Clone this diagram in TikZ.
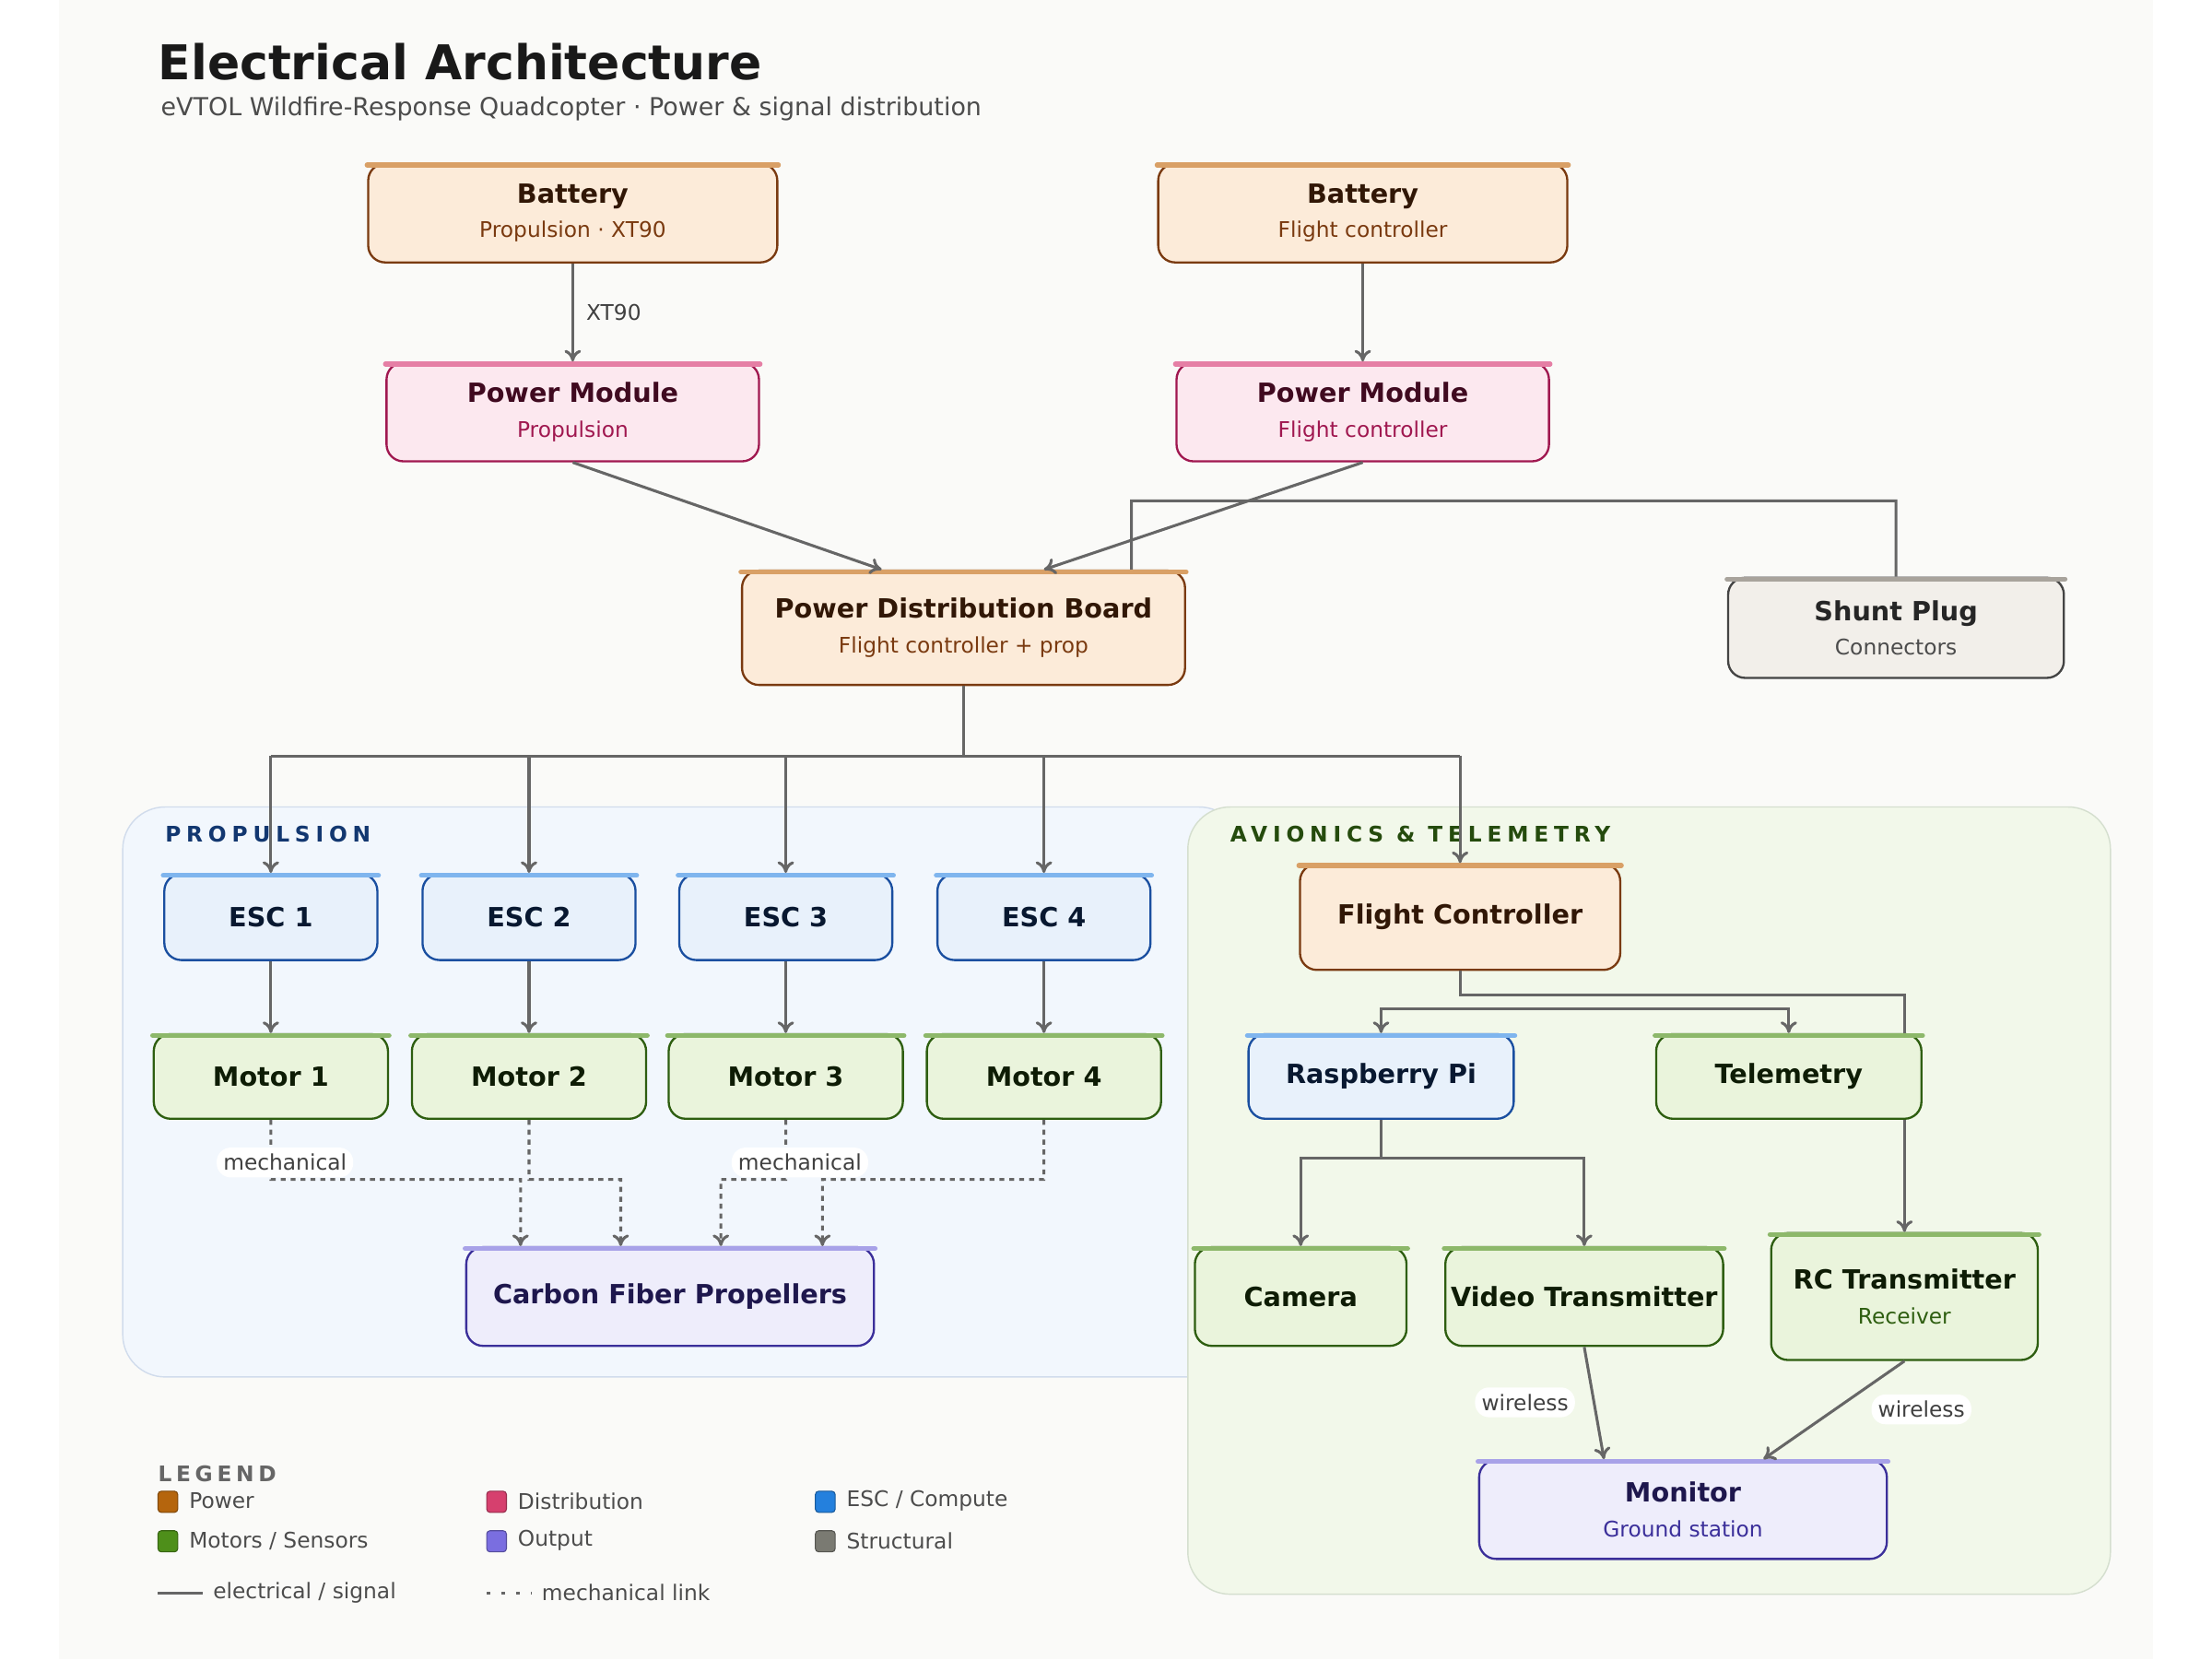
\documentclass[tikz,border=0pt]{standalone}
\usepackage{fontspec}
\setmainfont{DejaVu Sans}
\usetikzlibrary{arrows.meta}
\definecolor{bgc}{HTML}{FAFAF8}
\definecolor{pwf}{HTML}{FCEBD9}\definecolor{pwd}{HTML}{7A3A10}\definecolor{pws}{HTML}{D9A066}
\definecolor{dsf}{HTML}{FCE8EF}\definecolor{dsd}{HTML}{A01850}\definecolor{dss}{HTML}{E57FA5}
\definecolor{esf}{HTML}{E8F1FB}\definecolor{esd}{HTML}{1A4FA0}\definecolor{ess}{HTML}{7FB5EE}
\definecolor{mof}{HTML}{EAF4DC}\definecolor{mod}{HTML}{2E5E10}\definecolor{mos}{HTML}{8DB86A}
\definecolor{ouf}{HTML}{EEEDFB}\definecolor{oud}{HTML}{3B2F9A}\definecolor{ous}{HTML}{A8A2E8}
\definecolor{stf}{HTML}{F2EFEA}\definecolor{std}{HTML}{444444}\definecolor{sts}{HTML}{A8A39C}
\definecolor{wire}{HTML}{666666}
\definecolor{lgpw}{HTML}{B5650D}\definecolor{lgds}{HTML}{D6406E}\definecolor{lges}{HTML}{2480DD}
\definecolor{lgmo}{HTML}{4E8F1A}\definecolor{lgou}{HTML}{7A6EE0}\definecolor{lgst}{HTML}{7A7A72}
\tikzset{
  box/.style = {rounded corners=0.36cm, line width=1.3pt, align=center,
    font=\fontsize{16}{19}\selectfont\bfseries},
  pw/.style = {box, fill=pwf, draw=pwd, text=pwd!40!black},
  ds/.style = {box, fill=dsf, draw=dsd, text=dsd!40!black},
  es/.style = {box, fill=esf, draw=esd, text=esd!30!black},
  mo/.style = {box, fill=mof, draw=mod, text=mod!30!black},
  ou/.style = {box, fill=ouf, draw=oud, text=oud!50!black},
  st/.style = {box, fill=stf, draw=std, text=black!85},
  wire/.style = {draw=wire, line width=1.7pt},
  arr/.style = {wire, -{To[length=7pt,width=10pt]}},
  mech/.style = {arr, dash pattern=on 3pt off 3pt},
  lbl/.style = {font=\fontsize{13}{15}\selectfont, text=black!75, fill=white,
    rounded corners=0.3cm, inner sep=4pt},
  grp/.style = {font=\fontsize{13}{15}\selectfont\bfseries\addfontfeatures{LetterSpace=25}, anchor=west},
  leg/.style = {font=\fontsize{13}{15}\selectfont, text=black!70, anchor=west},
}
\newcommand{\sub}[2]{\\[2pt]{\fontsize{13}{15}\selectfont\mdseries\color{#1}#2}}
\begin{document}
\begin{tikzpicture}[x=0.03cm, y=-0.03cm]
\useasboundingbox (0,0) rectangle (1568,1176);
\fill[white] (0,0) rectangle (1568,1176);
\fill[bgc] (42,0) rectangle (1526,1176);
% groups
\draw[fill=esf!55, draw=esd!20, line width=0.8pt, rounded corners=0.9cm] (87,572) rectangle (880,976);
\draw[fill=mof!60, draw=mod!20, line width=0.8pt, rounded corners=0.9cm] (842,572) rectangle (1496,1130);
\node[grp, text=esd!70!black] (gprop) at (113,591) {PROPULSION};
\node[grp, text=mod!80!black] (gavi) at (868,591) {AVIONICS \& TELEMETRY};
% title
\node[anchor=west, font=\fontsize{29}{34}\selectfont\bfseries, text=black!90] (title) at (108,44) {Electrical Architecture};
\node[anchor=west, font=\fontsize{15}{18}\selectfont, text=black!70] (subtitle) at (110,77) {eVTOL Wildfire-Response Quadcopter · Power \& signal distribution};
% power chain
\node[pw, minimum width=8.7cm, minimum height=2.1cm] (bat1) at (406,151) {Battery\sub{pwd}{Propulsion · XT90}};
\node[pw, minimum width=8.7cm, minimum height=2.1cm] (bat2) at (966,151) {Battery\sub{pwd}{Flight controller}};
\node[ds, minimum width=7.92cm, minimum height=2.1cm] (pm1) at (406,292) {Power Module\sub{dsd}{Propulsion}};
\node[ds, minimum width=7.92cm, minimum height=2.1cm] (pm2) at (966,292) {Power Module\sub{dsd}{Flight controller}};
\node[pw, minimum width=9.42cm, minimum height=2.43cm] (pdb) at (683,445) {Power Distribution Board\sub{pwd}{Flight controller + prop}};
\node[st, minimum width=7.14cm, minimum height=2.13cm] (shunt) at (1344,445) {Shunt Plug\sub{black!70}{Connectors}};
% propulsion
\foreach \i/\x in {1/192, 2/375, 3/557, 4/740} {
  \node[es, minimum width=4.53cm, minimum height=1.83cm] (esc\i) at (\x,650) {ESC \i};
  \node[mo, minimum width=4.98cm, minimum height=1.8cm] (mot\i) at (\x,763) {Motor \i};
}
\node[ou, minimum width=8.67cm, minimum height=2.1cm] (prop) at (475,919) {Carbon Fiber Propellers};
% avionics
\node[pw, minimum width=6.81cm, minimum height=2.25cm] (fc) at (1035,650) {Flight Controller};
\node[es, minimum width=5.64cm, minimum height=1.8cm] (rpi) at (979,763) {Raspberry Pi};
\node[mo, minimum width=5.64cm, minimum height=1.8cm] (tele) at (1268,763) {Telemetry};
\node[mo, minimum width=4.5cm, minimum height=2.1cm] (cam) at (922,919) {Camera};
\node[mo, minimum width=5.67cm, minimum height=2.1cm] (vtx) at (1123,919) {Video Transmitter};
\node[mo, minimum width=5.67cm, minimum height=2.7cm] (rc) at (1350,919) {RC Transmitter\sub{mod}{Receiver}};
\node[ou, minimum width=8.67cm, minimum height=2.1cm] (mon) at (1193,1070) {Monitor\sub{oud}{Ground station}};
% top stripes
\foreach \n/\c in {bat1/pws, bat2/pws, pm1/dss, pm2/dss, pdb/pws, shunt/sts, esc1/ess, esc2/ess, esc3/ess, esc4/ess,
  mot1/mos, mot2/mos, mot3/mos, mot4/mos, prop/ous, fc/pws, rpi/ess, tele/mos, cam/mos, vtx/mos, rc/mos, mon/ous}
  \draw[\c, line width=3pt, line cap=round] ([yshift=-1.5pt]\n.north west) -- ([yshift=-1.5pt]\n.north east);
% connectors
\draw[arr] (bat1) -- node[right, font=\fontsize{13}{15}\selectfont, text=black!75, xshift=4pt] {XT90} (pm1);
\draw[arr] (bat2) -- (pm2);
\draw[arr] (pm1.south) -- ([xshift=-1.74cm]pdb.north);
\draw[arr] (pm2.south) -- ([xshift=1.71cm]pdb.north);
\coordinate (shj) at (802,355);
\draw[wire] ([xshift=3.57cm]pdb.north) -- (shj) -| (shunt.north);
\coordinate (bus) at (683,536);
\draw[wire] (pdb.south) -- (bus);
\draw[wire] (esc1.north |- bus) -- (fc.north |- bus);
\foreach \i in {1,...,4} {
  \draw[arr] (esc\i.north |- bus) -- (esc\i.north);
  \draw[arr] (esc\i) -- (mot\i);
}
\draw[arr] (fc.north |- bus) -- (fc.north);
\draw[mech] (mot1.south) |- (369,836) -- ([xshift=-3.18cm]prop.north);
\draw[mech] (mot2.south) |- (440,836) -- ([xshift=-1.05cm]prop.north);
\draw[mech] (mot3.south) |- (511,836) -- ([xshift=1.08cm]prop.north);
\draw[mech] (mot4.south) |- (583,836) -- ([xshift=3.24cm]prop.north);
\node[lbl] (mlab1) at (202,824) {mechanical};
\node[lbl] (mlab2) at (567,824) {mechanical};
\coordinate (fcj) at (1035,715);
\draw[wire] (fc.south) -- (1035,705) -| ([xshift=2.46cm]tele.north);
\draw[arr] (fcj) -| (rpi.north);
\draw[arr] (fcj) -| (tele.north);
\draw[arr] (tele.south -| rc.north) -- (rc.north);
\coordinate (rpj) at (979,821);
\draw[wire] (rpi.south) -- (rpj);
\draw[arr] (rpj) -| (cam.north);
\draw[arr] (rpj) -| (vtx.north);
\draw[arr] (vtx.south) -- ([xshift=-1.68cm]mon.north);
\draw[arr] (rc.south) -- ([xshift=1.71cm]mon.north);
\node[lbl] (wl1) at (1081,994) {wireless};
\node[lbl] (wl2) at (1362,999) {wireless};
% legend
\node[anchor=west, font=\fontsize{13}{15}\selectfont\bfseries\addfontfeatures{LetterSpace=20}, text=black!60] (legt) at (108,1045) {LEGEND};
\foreach \c/\t/\x/\y in {lgpw/{Power}/112/1064, lgds/{Distribution}/345/1064, lges/{ESC / Compute}/578/1064,
  lgmo/{Motors / Sensors}/112/1092, lgou/{Output}/345/1092, lgst/{Structural}/578/1092} {
  \draw[fill=\c, draw=\c!70!black, rounded corners=2pt, line width=0.6pt] (\x,\y-7) rectangle (\x+14,\y+8);
  \node[leg] at (\x+18,\y) {\t};
}
\draw[wire] (112,1129) -- (144,1129);
\node[leg] (lege) at (147,1129) {electrical / signal};
\draw[wire, dash pattern=on 2pt off 7pt] (345,1129) -- (377,1129);
\node[leg] (legm) at (380,1129) {mechanical link};
\end{tikzpicture}
\end{document}
